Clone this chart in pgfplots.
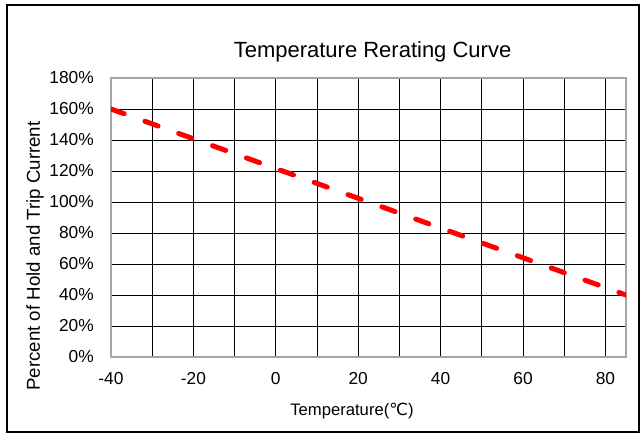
\documentclass[border=0pt]{standalone}
\usepackage{fontspec}
\setmainfont{Liberation Sans}
\newfontfamily\dejavu{DejaVu Sans}
\usepackage{pgfplots}
\pgfplotsset{compat=1.18}

\begin{document}
\begin{tikzpicture}
% page size 644x437 px at 0.75pt per px
\path (0,0) rectangle (483pt,327.75pt);
\draw[black, line width=0.8pt] (5.25pt,3.75pt) rectangle (479.25pt,324pt);

\begin{axis}[
    at={(83.25pt,60pt)}, anchor=south west,
    scale only axis,
    width=386.25pt, height=209.25pt,
    xmin=-40, xmax=85,
    ymin=0, ymax=180,
    xtick={-40,-20,...,80},
    minor xtick={-30,-10,...,70},
    ytick={0,20,...,180},
    grid=both,
    major grid style={black, line width=0.6pt},
    minor grid style={black, line width=0.6pt},
    axis line style={gray!70, line width=1.5pt},
    major tick length=0pt, minor tick length=0pt,
    /pgf/number format/assume math mode=true,
    ticklabel style={font=\fontsize{13}{15}\selectfont},
    yticklabel={\pgfmathprintnumber{\tick}\%},
    yticklabel style={anchor=east, inner sep=0pt, xshift=-12.75pt},
    xticklabel style={anchor=north, inner sep=0pt, yshift=-11.25pt},
]
\addplot[red, line width=3.75pt, line cap=round, dash pattern=on 10.5pt off 16.5pt] coordinates {
    (-40,160)
    (85,40)
};
\end{axis}

\node[font=\fontsize{16.5}{19}\selectfont, anchor=base] at (279.4pt,285pt) {Temperature Rerating Curve};
\node[font=\fontsize{12.5}{15}\selectfont, anchor=base west, inner sep=0pt] at (217.5pt,16.5pt) {Temperature({\dejavu ℃})};
\node[font=\fontsize{14}{16}\selectfont, rotate=90] at (26.25pt,135.75pt) {Percent of Hold and Trip Current};
\end{tikzpicture}
\end{document}
